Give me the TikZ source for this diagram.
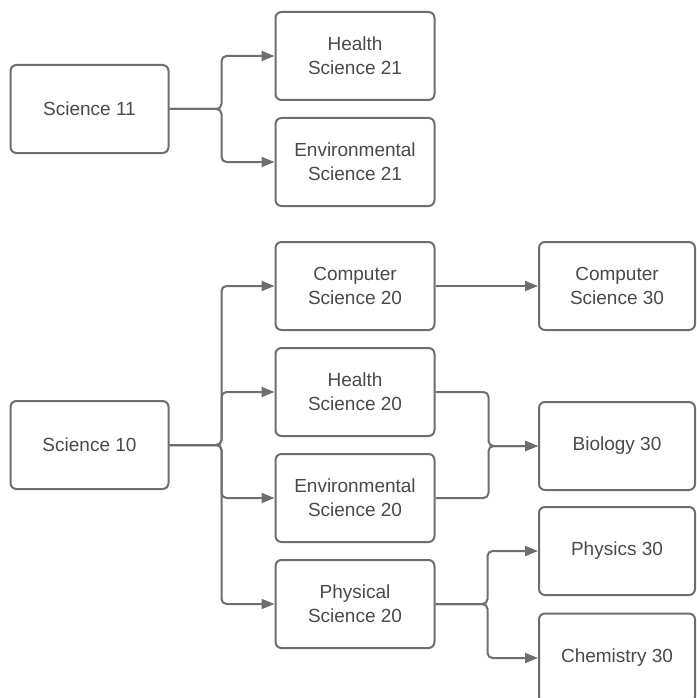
\documentclass[tikz,border=0pt]{standalone}
\usepackage{fontspec}
\setmainfont{Liberation Sans}
\usetikzlibrary{arrows.meta,calc}
\definecolor{linec}{HTML}{6E6E6E}
\definecolor{textc}{HTML}{4A4A4A}
\tikzset{
  box/.style={draw=linec, line width=2pt, rounded corners=6pt, fill=white,
    minimum height=88pt, align=center, text=textc,
    font=\fontsize{19pt}{24pt}\selectfont, inner sep=0pt},
  boxl/.style={box, minimum width=158pt},
  boxm/.style={box, minimum width=159pt},
  boxr/.style={box, minimum width=156pt},
  conn/.style={draw=linec, line width=2pt, rounded corners=5pt,
    -{Triangle[length=13pt,width=10pt]}},
}
\begin{document}
\begin{tikzpicture}[x=1pt,y=-1pt]
\useasboundingbox (0,0) rectangle (696,698);
\clip (0,0) rectangle (696,698);
\fill[white] (0,0) rectangle (696,698);
\node[boxl] (sci11) at (89.5,109) {Science 11};
\node[boxm] (h21) at (355,56) {Health\\Science 21};
\node[boxm] (e21) at (355,162) {Environmental\\Science 21};
\node[boxm] (cs20) at (355,286) {Computer\\Science 20};
\node[boxr] (cs30) at (617,286) {Computer\\Science 30};
\node[boxm] (h20) at (355,392) {Health\\Science 20};
\node[boxl] (sci10) at (89.5,445) {Science 10};
\node[boxr] (bio30) at (617,446) {Biology 30};
\node[boxm] (e20) at (355,498) {Environmental\\Science 20};
\node[boxr] (phys30) at (617,551) {Physics 30};
\node[boxm] (ps20) at (355,604) {Physical\\Science 20};
\node[boxr, minimum height=89pt] (chem30) at (617,658) {Chemistry 30};

\draw[conn] (sci11.east) -- ++(52,0) |- (h21.west);
\draw[conn] (sci11.east) -- ++(52,0) |- (e21.west);
\draw[conn] (sci10.east) -- ++(52,0) |- (cs20.west);
\draw[conn] (sci10.east) -- ++(52,0) |- (h20.west);
\draw[conn] (sci10.east) -- ++(52,0) |- (e20.west);
\draw[conn] (sci10.east) -- ++(52,0) |- (ps20.west);
\draw[conn] (cs20.east) -- (cs30.west);
\draw[conn] (h20.east) -- ++(53,0) |- (bio30.west);
\draw[conn] (e20.east) -- ++(53,0) |- (bio30.west);
\draw[conn] (ps20.east) -- ++(52,0) |- (phys30.west);
\draw[conn] (ps20.east) -- ++(52,0) |- (chem30.west);
\end{tikzpicture}
\end{document}
